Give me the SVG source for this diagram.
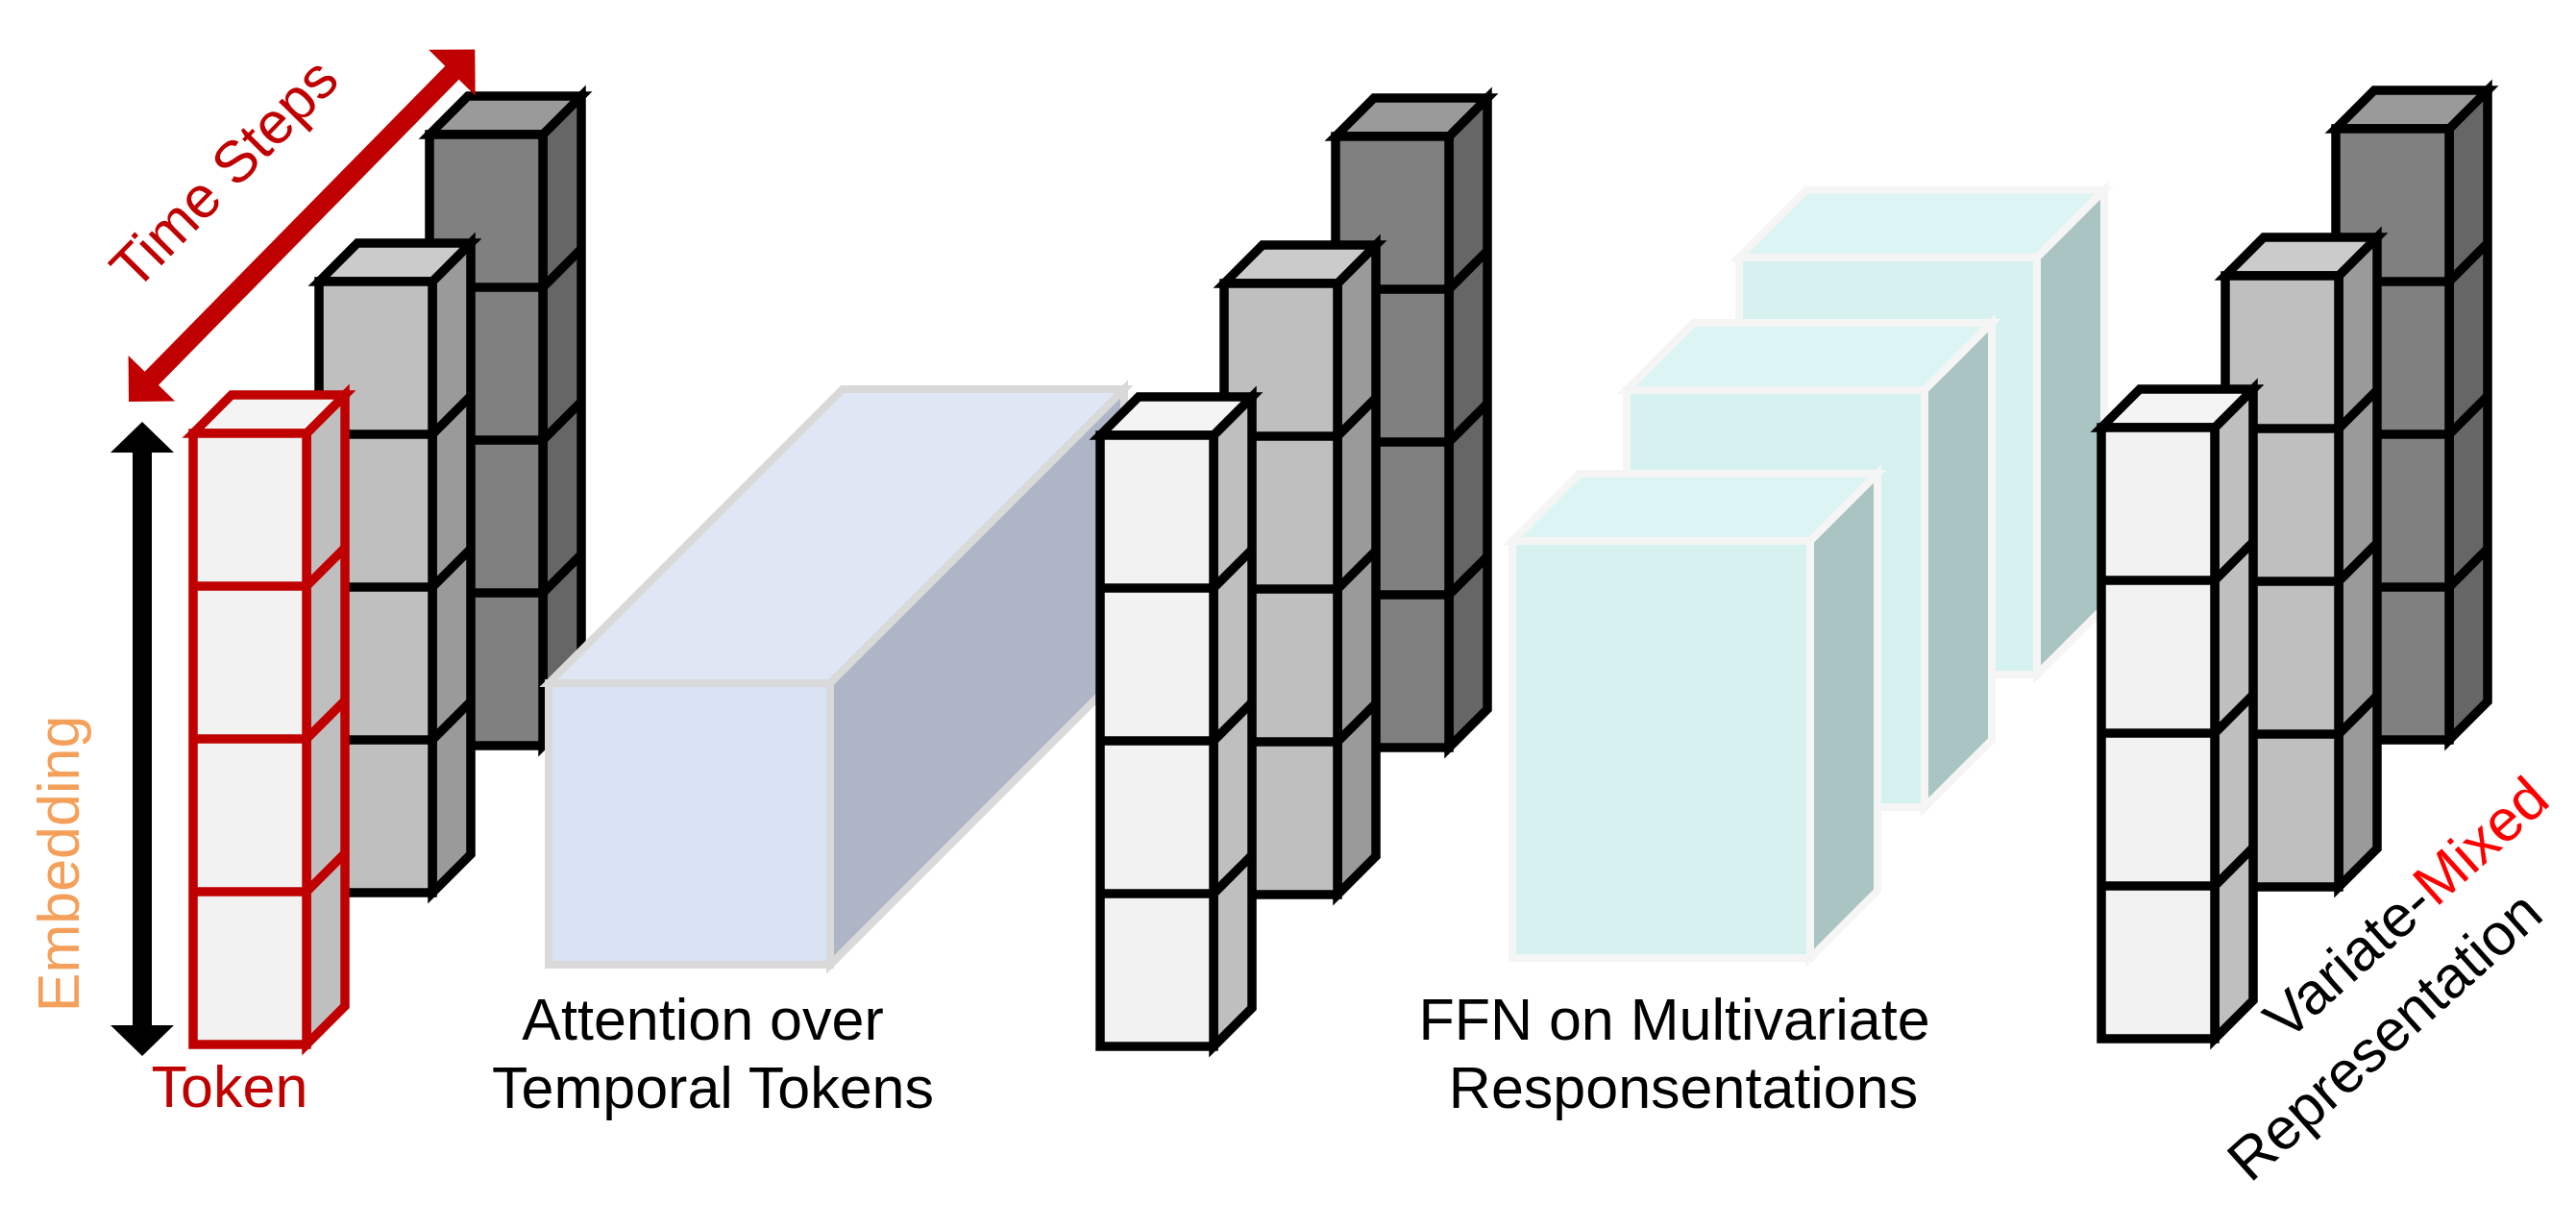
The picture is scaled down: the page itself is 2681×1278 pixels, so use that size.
<svg xmlns="http://www.w3.org/2000/svg" width="2681" height="1278" viewBox="0 0 2681 1278">
<style>
  .k { stroke: #000; stroke-width: 9.5; stroke-linejoin: miter; }
  .r { stroke: #c00000; stroke-width: 9.5; stroke-linejoin: miter; }
  .div { fill: none; }
  .wf { fill: #f2f2f2; } .wt { fill: #f4f4f4; } .ws { fill: #bfbfbf; }
  .lf { fill: #bfbfbf; } .lt { fill: #cbcbcb; } .ls { fill: #9a9a9a; }
  .df { fill: #808080; } .dt { fill: #9a9a9a; } .ds { fill: #666666; }
  .blue { stroke: #d9d9d9; stroke-width: 8; stroke-linejoin: miter; }
  .teal { stroke: #f5f5f5; stroke-width: 8; stroke-linejoin: miter; }
  .lbl { font-family: "Liberation Sans", Arial, sans-serif; font-size: 61px; }
</style>
<rect width="2681" height="1278" fill="#ffffff"/>

<!-- Group 1 -->
<g id="col3" class="k" transform="translate(447,140)">
  <polygon class="ds" points="118,0 158,-40 158,596 118,636"/>
  <polygon class="dt" points="0,0 40,-40 158,-40 118,0"/>
  <rect class="df" x="0" y="0" width="118" height="636"/>
  <polyline class="div" points="0,159 118,159 158,119"/>
  <polyline class="div" points="0,318 118,318 158,278"/>
  <polyline class="div" points="0,477 118,477 158,437"/>
</g>
<g id="col2" class="k" transform="translate(332,293)">
  <polygon class="ls" points="118,0 158,-40 158,596 118,636"/>
  <polygon class="lt" points="0,0 40,-40 158,-40 118,0"/>
  <rect class="lf" x="0" y="0" width="118" height="636"/>
  <polyline class="div" points="0,159 118,159 158,119"/>
  <polyline class="div" points="0,318 118,318 158,278"/>
  <polyline class="div" points="0,477 118,477 158,437"/>
</g>
<g id="col1" class="r" transform="translate(201,451)">
  <polygon class="ws" points="118,0 158,-40 158,596 118,636"/>
  <polygon class="wt" points="0,0 40,-40 158,-40 118,0"/>
  <rect class="wf" x="0" y="0" width="118" height="636"/>
  <polyline class="div" points="0,159 118,159 158,119"/>
  <polyline class="div" points="0,318 118,318 158,278"/>
  <polyline class="div" points="0,477 118,477 158,437"/>
</g>

<!-- Attention block -->
<g id="attention" class="blue">
  <polygon fill="#dfe7f5" points="571,711 877,405 1170,405 864,711"/>
  <polygon fill="#aeb5c6" points="864,711 1170,405 1170,698 864,1004"/>
  <rect fill="#dae3f3" x="571" y="711" width="293" height="293"/>
</g>

<!-- Group 2 -->
<g id="col6" class="k" transform="translate(1390,142)">
  <polygon class="ds" points="118,0 158,-40 158,596 118,636"/>
  <polygon class="dt" points="0,0 40,-40 158,-40 118,0"/>
  <rect class="df" x="0" y="0" width="118" height="636"/>
  <polyline class="div" points="0,159 118,159 158,119"/>
  <polyline class="div" points="0,318 118,318 158,278"/>
  <polyline class="div" points="0,477 118,477 158,437"/>
</g>
<g id="col5" class="k" transform="translate(1274,295)">
  <polygon class="ls" points="118,0 158,-40 158,596 118,636"/>
  <polygon class="lt" points="0,0 40,-40 158,-40 118,0"/>
  <rect class="lf" x="0" y="0" width="118" height="636"/>
  <polyline class="div" points="0,159 118,159 158,119"/>
  <polyline class="div" points="0,318 118,318 158,278"/>
  <polyline class="div" points="0,477 118,477 158,437"/>
</g>
<g id="col4" class="k" transform="translate(1145,453)">
  <polygon class="ws" points="118,0 158,-40 158,596 118,636"/>
  <polygon class="wt" points="0,0 40,-40 158,-40 118,0"/>
  <rect class="wf" x="0" y="0" width="118" height="636"/>
  <polyline class="div" points="0,159 118,159 158,119"/>
  <polyline class="div" points="0,318 118,318 158,278"/>
  <polyline class="div" points="0,477 118,477 158,437"/>
</g>

<!-- FFN blocks -->
<g id="ffn3" class="teal">
  <polygon fill="#dcf4f3" points="1810,268 1880,198 2190,198 2120,268"/>
  <polygon fill="#a9c4c2" points="2120,268 2190,198 2190,632 2120,702"/>
  <rect fill="#d5f2f1" x="1810" y="268" width="310" height="434"/>
</g>
<g id="ffn2" class="teal">
  <polygon fill="#dcf4f3" points="1693,406 1763,336 2073,336 2003,406"/>
  <polygon fill="#a9c4c2" points="2003,406 2073,336 2073,770 2003,840"/>
  <rect fill="#d5f2f1" x="1693" y="406" width="310" height="434"/>
</g>
<g id="ffn1" class="teal">
  <polygon fill="#dcf4f3" points="1574,563 1644,493 1954,493 1884,563"/>
  <polygon fill="#a9c4c2" points="1884,563 1954,493 1954,927 1884,997"/>
  <rect fill="#d5f2f1" x="1574" y="563" width="310" height="434"/>
</g>

<!-- Group 3 -->
<g id="col9" class="k" transform="translate(2431,134)">
  <polygon class="ds" points="118,0 158,-40 158,596 118,636"/>
  <polygon class="dt" points="0,0 40,-40 158,-40 118,0"/>
  <rect class="df" x="0" y="0" width="118" height="636"/>
  <polyline class="div" points="0,159 118,159 158,119"/>
  <polyline class="div" points="0,318 118,318 158,278"/>
  <polyline class="div" points="0,477 118,477 158,437"/>
</g>
<g id="col8" class="k" transform="translate(2316,287)">
  <polygon class="ls" points="118,0 158,-40 158,596 118,636"/>
  <polygon class="lt" points="0,0 40,-40 158,-40 118,0"/>
  <rect class="lf" x="0" y="0" width="118" height="636"/>
  <polyline class="div" points="0,159 118,159 158,119"/>
  <polyline class="div" points="0,318 118,318 158,278"/>
  <polyline class="div" points="0,477 118,477 158,437"/>
</g>
<g id="col7" class="k" transform="translate(2187,445)">
  <polygon class="ws" points="118,0 158,-40 158,596 118,636"/>
  <polygon class="wt" points="0,0 40,-40 158,-40 118,0"/>
  <rect class="wf" x="0" y="0" width="118" height="636"/>
  <polyline class="div" points="0,159 118,159 158,119"/>
  <polyline class="div" points="0,318 118,318 158,278"/>
  <polyline class="div" points="0,477 118,477 158,437"/>
</g>

<!-- Connectors (dimension arrows) -->
<g id="connectors">
  <polygon id="time-arrow" fill="#c00000" transform="translate(134,418) rotate(-45.5)"
    points="0,0 34,-34 34,-10 480,-10 480,-34 514,0 480,34 480,10 34,10 34,34"/>
  <polygon id="embed-arrow" fill="#000000"
    points="148,439 181,471 158,471 158,1067 181,1067 148,1099 115,1067 138,1067 138,471 115,471"/>
</g>

<!-- Labels -->
<g id="labels" class="lbl">
  <text id="lbl-time" fill="#c00000" text-anchor="middle" transform="translate(248,195) rotate(-45.5)">Time Steps</text>
  <text id="lbl-embedding" fill="#f5a05a" text-anchor="middle" transform="translate(82,899) rotate(-90)">Embedding</text>
  <text id="lbl-token" fill="#c00000" text-anchor="middle" x="239" y="1152">Token</text>
  <text id="lbl-attention" fill="#000000" text-anchor="middle">
    <tspan x="740" y="1082">Attention over</tspan>
    <tspan x="742" y="1153">Temporal Tokens</tspan>
  </text>
  <text id="lbl-ffn" fill="#000000" text-anchor="middle">
    <tspan x="1751" y="1082">FFN on Multivariate</tspan>
    <tspan x="1752" y="1153">Responsentations</tspan>
  </text>
  <text id="lbl-mixed1" fill="#000000" transform="translate(2380,1085) rotate(-42)">Variate-<tspan fill="#ff0000">Mixed</tspan></text>
  <text id="lbl-mixed2" fill="#000000" transform="translate(2342,1232) rotate(-42)">Representation</text>
</g>
</svg>
